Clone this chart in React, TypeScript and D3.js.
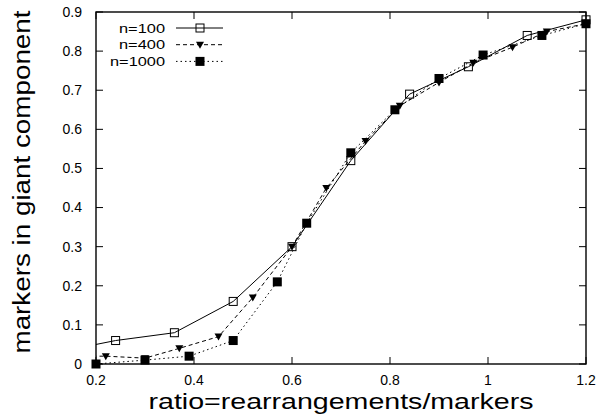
import React from "react";
import * as d3 from "d3";

const xTicks = [0.2, 0.4, 0.6, 0.8, 1.0, 1.2];
const xTickLabels = ["0.2", "0.4", "0.6", "0.8", "1", "1.2"];
const yTicks = [0, 0.1, 0.2, 0.3, 0.4, 0.5, 0.6, 0.7, 0.8, 0.9];
const yTickLabels = ["0", "0.1", "0.2", "0.3", "0.4", "0.5", "0.6", "0.7", "0.8", "0.9"];

const seriesNames = ["n=100", "n=400", "n=1000"];

const x100 = [0.12, 0.24, 0.36, 0.48, 0.6, 0.72, 0.84, 0.96, 1.08, 1.2];
const y100 = [0.03, 0.06, 0.08, 0.16, 0.3, 0.52, 0.69, 0.76, 0.84, 0.88];

const x400 = [0.15, 0.22, 0.3, 0.37, 0.45, 0.52, 0.6, 0.67, 0.75, 0.82, 0.9, 0.97, 1.05, 1.12, 1.2];
const y400 = [0.02, 0.02, 0.015, 0.04, 0.07, 0.17, 0.3, 0.45, 0.57, 0.66, 0.72, 0.77, 0.81, 0.85, 0.87];

const x1000 = [0.2, 0.3, 0.39, 0.48, 0.57, 0.63, 0.72, 0.81, 0.9, 0.99, 1.11, 1.2];
const y1000 = [0.0, 0.01, 0.02, 0.06, 0.21, 0.36, 0.54, 0.65, 0.73, 0.79, 0.84, 0.87];

const W = 600;
const H = 418;
const L = 96, R = 586, T = 12, B = 364;
const FONT = "'Liberation Sans', Arial, Helvetica, sans-serif";

type Pt = { x: number; y: number };
const zip = (xs: number[], ys: number[]): Pt[] => xs.map((x, i) => ({ x, y: ys[i] }));

const series = [
  { name: seriesNames[0], data: zip(x100, y100), dash: "none", marker: "openSquare" },
  { name: seriesNames[1], data: zip(x400, y400), dash: "4,3", marker: "triangle" },
  { name: seriesNames[2], data: zip(x1000, y1000), dash: "1.5,3", marker: "filledSquare" },
];

function Marker({ kind, cx, cy }: { kind: string; cx: number; cy: number }) {
  if (kind === "openSquare") {
    return <rect x={cx - 4} y={cy - 4} width={8} height={8} fill="none" stroke="#000" strokeWidth={1} />;
  }
  if (kind === "filledSquare") {
    return <rect x={cx - 4.5} y={cy - 4.5} width={9} height={9} fill="#000" />;
  }
  return (
    <path d={`M${cx - 4},${cy - 3} L${cx + 4},${cy - 3} L${cx},${cy + 4} Z`} fill="#000" />
  );
}

export default function App() {
  const xs = d3.scaleLinear().domain([0.2, 1.2]).range([L, R]);
  const ys = d3.scaleLinear().domain([0, 0.9]).range([B, T]);
  const line = d3
    .line<Pt>()
    .x((d) => xs(d.x))
    .y((d) => ys(d.y));
  const tickLen = 7;

  return (
    <svg
      width={W}
      height={H}
      style={{ position: "absolute", left: 0, top: 0, background: "#fff" }}
      fontFamily={FONT}
    >
      <defs>
        <clipPath id="plotclip">
          <rect x={L} y={T} width={R - L} height={B - T} />
        </clipPath>
      </defs>
      <rect x={0} y={0} width={W} height={H} fill="#fff" />

      {/* ticks */}
      {xTicks.map((t, i) => (
        <g key={"xt" + i}>
          <line x1={xs(t)} x2={xs(t)} y1={B} y2={B - tickLen} stroke="#000" strokeWidth={1} />
          <line x1={xs(t)} x2={xs(t)} y1={T} y2={T + tickLen} stroke="#000" strokeWidth={1} />
          <text x={xs(t)} y={ys(0) + 21} textAnchor="middle" fontSize={14} fill="#000">
            {xTickLabels[i]}
          </text>
        </g>
      ))}
      {yTicks.map((t, i) => (
        <g key={"yt" + i}>
          <line x1={L} x2={L + tickLen} y1={ys(t)} y2={ys(t)} stroke="#000" strokeWidth={1} />
          <line x1={R} x2={R - tickLen} y1={ys(t)} y2={ys(t)} stroke="#000" strokeWidth={1} />
          <text x={82} y={ys(t)} dy="0.35em" textAnchor="end" fontSize={14} fill="#000">
            {yTickLabels[i]}
          </text>
        </g>
      ))}

      {/* series */}
      {series.map((s, i) => (
        <g key={"s" + i}>
          <path
            d={line(s.data) || ""}
            fill="none"
            stroke="#000"
            strokeWidth={1}
            strokeDasharray={s.dash}
            clipPath="url(#plotclip)"
          />
          {s.data
            .filter((d) => d.x >= 0.2 - 1e-9 && d.x <= 1.2 + 1e-9)
            .map((d, j) => (
              <Marker key={j} kind={s.marker} cx={xs(d.x)} cy={ys(d.y)} />
            ))}
        </g>
      ))}

      {/* legend */}
      {series.map((s, i) => {
        const ly = 28 + i * 16.7;
        return (
          <g key={"lg" + i}>
            <text
              x={165}
              y={ly}
              dy="0.35em"
              textAnchor="end"
              fontSize={13.5}
              textLength={s.name.length === 6 ? 55 : 46}
              lengthAdjust="spacingAndGlyphs"
              fill="#000"
            >
              {s.name}
            </text>
            <line x1={176} x2={223} y1={ly} y2={ly} stroke="#000" strokeWidth={1} strokeDasharray={s.dash} />
            <Marker kind={s.marker} cx={200} cy={ly} />
          </g>
        );
      })}

      {/* border */}
      <rect x={L} y={T} width={R - L} height={B - T} fill="none" stroke="#000" strokeWidth={1.4} />

      {/* axis titles */}
      <text
        x={(L + R) / 2}
        y={409}
        textAnchor="middle"
        fontSize={22}
        textLength={385}
        lengthAdjust="spacingAndGlyphs"
        fill="#000"
      >
        ratio=rearrangements/markers
      </text>
      <text
        transform={`translate(30,182) rotate(-90)`}
        textAnchor="middle"
        fontSize={23}
        textLength={343}
        lengthAdjust="spacingAndGlyphs"
        fill="#000"
      >
        markers in giant component
      </text>
    </svg>
  );
}
